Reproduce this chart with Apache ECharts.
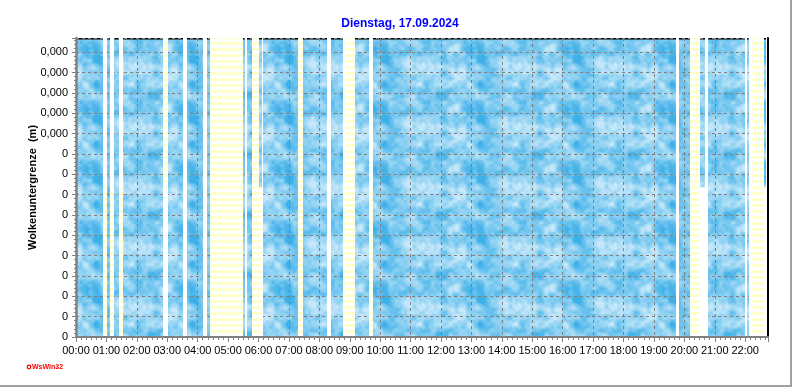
<!DOCTYPE html>
<html><head><meta charset="utf-8">
<script src="https://cdn.jsdelivr.net/npm/echarts@6/dist/echarts.min.js"></script>
<style>html,body{margin:0;padding:0;background:#fff}#c{width:792px;height:387px}</style>
</head><body><div id="c"></div><script>
// ---- data ----
const titleText = 'Dienstag, 17.09.2024';
const yAxisName = 'Wolkenuntergrenze  (m)';
const yTickLabels = ['0','0','0','0','0','0','0','0','0','0','0,000','0,000','0,000','0,000','0,000'];
const xTickLabels = ['00:00','01:00','02:00','03:00','04:00','05:00','06:00','07:00','08:00','09:00','10:00','11:00',
  '12:00','13:00','14:00','15:00','16:00','17:00','18:00','19:00','20:00','21:00','22:00'];
// segments, minutes after midnight
const segStart = [0,54,61,67,74,85,93,172,181,212,219,251,258,264,330,333,337,347,360,366,369,438,448,495,503,526,531,550,578,586,1183,1189,1211,1231,1241,1246,1319,1323,1327,1333,1357,1361];
const segEnd   = [54,61,67,74,85,93,172,181,212,219,251,258,264,330,333,337,347,360,366,369,438,448,495,503,526,531,550,578,586,1183,1189,1211,1231,1241,1246,1319,1323,1327,1333,1357,1361,1365];
// b = cloud texture, y = clear (striped), w = no data
const segUpper = ['b','w','b','w','b','w','b','y','b','w','b','w','b','y','b','w','b','y','b','w','b','y','b','w','b','w','y','b','w','b','w','b','y','b','w','b','w','b','w','y','b','w'];
const segLower = ['b','y','b','y','b','y','b','w','b','w','b','w','b','y','b','w','b','y','y','w','b','y','b','w','b','y','y','b','y','b','w','b','y','w','w','b','w','b','w','y','w','w'];
const yMax = 14.7;
const ySplit = 7.35;
const xMax = 1365;

// ---- textures ----
function hash(i,j){const s=Math.sin(i*127.1+j*311.7)*43758.5453;return s-Math.floor(s);}
function vnoise(x,y,w,h,cx,cy){
  const gx=x/w*cx, gy=y/h*cy; const i0=Math.floor(gx), j0=Math.floor(gy);
  let fx=gx-i0, fy=gy-j0; fx=fx*fx*(3-2*fx); fy=fy*fy*(3-2*fy);
  const i1=(i0+1)%cx, j1=(j0+1)%cy;
  const a=hash(i0,j0),b=hash(i1,j0),c=hash(i0,j1),d=hash(i1,j1);
  return a+(b-a)*fx+(c-a)*fy+(a-b-c+d)*fx*fy;
}
function makeCloud(){
  const w=96,h=60;
  const cv=document.createElement('canvas'); cv.width=w; cv.height=h;
  const ctx=cv.getContext('2d'); const img=ctx.createImageData(w,h);
  for(let y=0;y<h;y++){for(let x=0;x<w;x++){
    let f=0.45*vnoise(x,y,w,h,8,5)+0.35*vnoise(x,y,w,h,16,10)+0.2*vnoise(x,y,w,h,32,20);
    let t=Math.min(1,Math.max(0,(f-0.22)/0.56));
    const d=[62,176,232], l=[198,232,249];
    const k=(y*w+x)*4;
    img.data[k]=d[0]+(l[0]-d[0])*t; img.data[k+1]=d[1]+(l[1]-d[1])*t; img.data[k+2]=d[2]+(l[2]-d[2])*t; img.data[k+3]=255;
  }}
  ctx.putImageData(img,0,0); return cv;
}
function makeStripes(){
  const c=document.createElement('canvas'); c.width=4; c.height=6;
  const ctx=c.getContext('2d'); ctx.fillStyle='#ffffff'; ctx.fillRect(0,0,4,6);
  ctx.fillStyle='#ffffcc'; ctx.fillRect(0,0,4,3); return c;
}
const cloudFill={image:makeCloud(),repeat:'repeat'};
const stripeFill={image:makeStripes(),repeat:'repeat'};

function rectOf(api,s,e,y0,y1){
  const p0=api.coord([s,y1]), p1=api.coord([e,y0]);
  const x0=Math.round(p0[0]), x1=Math.round(p1[0]);
  return {x:x0,y:p0[1],width:x1-x0,height:p1[1]-p0[1]};
}
function renderCloud(params,api){
  const s=api.value(0), e=api.value(1), i=api.value(2);
  const ch=[];
  const up=segUpper[i]==='b', lo=segLower[i]==='b';
  if(up&&lo) ch.push({type:'rect',shape:rectOf(api,s,e,0,yMax),style:{fill:cloudFill}});
  else { if(up) ch.push({type:'rect',shape:rectOf(api,s,e,ySplit,yMax),style:{fill:cloudFill}});
         if(lo) ch.push({type:'rect',shape:rectOf(api,s,e,0,ySplit),style:{fill:cloudFill}}); }
  if(up){ const r=rectOf(api,s,e,0,yMax);
    ch.push({type:'line',shape:{x1:r.x,y1:r.y+0.75,x2:r.x+r.width,y2:r.y+0.75},style:{stroke:'#000',lineWidth:1.5}}); }
  return {type:'group',children:ch};
}
function renderOther(params,api){
  const s=api.value(0), e=api.value(1), i=api.value(2);
  const ch=[];
  const f=c=>c==='y'?stripeFill:'#ffffff';
  if(segUpper[i]!=='b') ch.push({type:'rect',shape:rectOf(api,s,e,ySplit,yMax),style:{fill:f(segUpper[i])}});
  if(segLower[i]!=='b') ch.push({type:'rect',shape:rectOf(api,s,e,0,ySplit),style:{fill:f(segLower[i])}});
  return {type:'group',children:ch};
}
const segData=segStart.map((s,i)=>[s,segEnd[i],i]);

const gray='#808080';
const chart=echarts.init(document.getElementById('c'),null,{renderer:'canvas'});
chart.setOption({
  animation:false,
  backgroundColor:'#ffffff',
  grid:{left:76,right:24,top:38,bottom:50},
  xAxis:[{
    type:'value',min:0,max:xMax,interval:60,position:'bottom',z:20,
    axisLine:{lineStyle:{color:gray,width:2}},
    axisTick:{length:5,lineStyle:{color:gray}},
    minorTick:{show:true,splitNumber:6,length:3,lineStyle:{color:gray}},
    axisLabel:{color:'#000',fontSize:11,fontFamily:'Liberation Sans',margin:8,showMaxLabel:false,
      formatter:v=>(v%60===0&&v/60<xTickLabels.length)?xTickLabels[v/60]:''},
    splitLine:{show:false}
  },{
    type:'value',min:0,max:xMax,interval:60,position:'top',z:5,
    axisLine:{show:false},axisTick:{show:false},axisLabel:{show:false},
    splitLine:{show:true,lineStyle:{color:gray,type:[3,3],width:1}}
  }],
  yAxis:[{
    type:'value',min:0,max:yMax,interval:1,position:'left',z:20,
    name:yAxisName,nameLocation:'middle',nameGap:38,nameMoveOverlap:false,
    nameTextStyle:{color:'#000',fontSize:11,fontWeight:'bold',fontFamily:'Liberation Sans'},
    axisLine:{show:true,lineStyle:{color:gray,width:2.5}},
    axisTick:{show:true,length:4,lineStyle:{color:gray}},
    minorTick:{show:true,splitNumber:5,length:2,lineStyle:{color:gray}},
    axisLabel:{color:'#000',fontSize:11,fontFamily:'Liberation Sans',margin:8,showMaxLabel:false,
      formatter:v=>(Math.abs(v-Math.round(v))<1e-6&&Math.round(v)<yTickLabels.length)?yTickLabels[Math.round(v)]:''},
    splitLine:{show:false}
  },{
    type:'value',min:0,max:yMax,interval:1,position:'right',z:5,
    axisLine:{show:false},axisTick:{show:false},axisLabel:{show:false},
    splitLine:{show:true,lineStyle:{color:gray,type:[3,3],width:1}}
  },{
    type:'value',min:0,max:yMax,interval:1,position:'right',z:20,
    axisLine:{show:true,lineStyle:{color:'#000',width:2}},axisTick:{show:false},axisLabel:{show:false},
    splitLine:{show:false}
  }],
  series:[{
    type:'custom',xAxisIndex:0,yAxisIndex:0,z:2,clip:true,renderItem:renderCloud,data:segData,encode:{x:[0,1],y:2}
  },{
    type:'custom',xAxisIndex:0,yAxisIndex:0,z:10,clip:true,renderItem:renderOther,data:segData,encode:{x:[0,1],y:2}
  }],
  graphic:[
    {type:'text',x:400,y:24,z:30,style:{text:titleText,fill:'#0000ff',font:'bold 12px "Liberation Sans"',textAlign:'center',textVerticalAlign:'middle'}},
    {type:'circle',x:29,y:367,z:30,shape:{r:1.8},style:{fill:'none',stroke:'#ff0000',lineWidth:1.2}},
    {type:'text',x:32,y:367.5,z:30,style:{text:'WsWin32',fill:'#ff0000',font:'bold 7px "Liberation Sans"',textVerticalAlign:'middle'}},
    {type:'line',z:30,shape:{x1:791,y1:0,x2:791,y2:386},style:{stroke:'#a0a0a0',lineWidth:2}},
    {type:'line',z:30,shape:{x1:0,y1:386,x2:792,y2:386},style:{stroke:'#a0a0a0',lineWidth:2}}
  ]
});
</script></body></html>
